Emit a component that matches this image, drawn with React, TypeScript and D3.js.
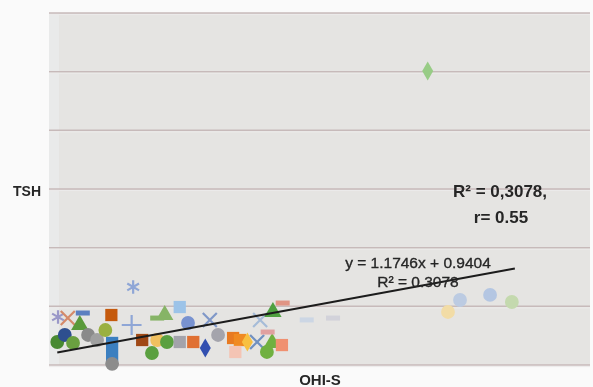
import React from "react";
import * as d3 from "d3";

// ---- data ----
const xValues = [1.12, 1.74, 0.83, 0.12, 0.25, 0.45, 0.41, 0.11, 0.21, 0.32, 0.52, 0.64, 0.75, 0.84, 0.84, 0.84, 1.10, 1.24, 1.44, 1.57, 1.37, 1.44, 1.54, 1.74, 1.85, 1.92, 2.08, 2.25, 2.14, 2.45, 2.54, 2.64, 2.48, 2.77, 2.81, 2.97, 2.90, 3.10, 2.91, 2.98, 3.11, 5.47, 5.87, 6.16, 5.31, 3.43, 3.78, 5.04];
const yValues = [6.65, 4.94, 4.26, 4.09, 4.0, 4.43, 3.41, 1.96, 2.56, 1.88, 2.56, 2.13, 2.98, 1.88, 0.85, 0.1, 3.41, 2.13, 2.13, 1.96, 1.02, 4.0, 4.26, 1.96, 3.58, 1.96, 1.45, 2.56, 3.84, 2.30, 2.13, 1.96, 1.11, 1.96, 3.84, 1.88, 1.11, 1.70, 2.81, 4.52, 5.28, 5.54, 5.97, 5.37, 4.52, 3.84, 4.0, 25.06];
const yTicks = [0, 5, 10, 15, 20, 25, 30];
const slope = 1.1746;
const intercept = 0.9404;
const trendX = [0.11, 6.2];
const xAxisTitle = "OHI-S";
const yAxisTitle = "TSH";
const equationLines = ["y = 1.1746x + 0.9404", "R² = 0.3078"];
const noteLines = ["R² = 0,3078,", "r= 0.55"];

// ---- marker styles (one per point) ----
const markerShapes = ["asterisk", "square", "square", "asterisk", "times", "dash", "triangle", "circle", "circle", "circle", "circle", "circle", "circle", "square", "square", "circle", "plus", "square", "circle", "circle", "circle", "dash", "triangle", "square", "circle", "square", "diamond", "circle", "times", "square", "square", "diamond", "square", "times", "times", "triangle", "circle", "square", "dash", "triangle", "dash", "circle", "circle", "circle", "circle", "dash", "dash", "diamond"];
const markerColors = ["#8fa6d6", "#9cc3e8", "#c55a11", "#9a98c8", "#d58a6a", "#5b7fc0", "#5a9a3a", "#4a8a30", "#2f4f8f", "#6aa040", "#8a8a8a", "#a0a0a0", "#9ab040", "#3b7fc0", "#3b7fc0", "#8c8c8c", "#8fa6d6", "#a04a14", "#f0c060", "#5aa040", "#5aa040", "#86b466", "#86b466", "#a3a3ab", "#7892d0", "#e07030", "#3050b0", "#a4a4ac", "#8098c8", "#e87a20", "#f08a20", "#f8c040", "#f4c4b4", "#7090c0", "#a6bcd8", "#70b040", "#70b040", "#f09070", "#e0a0a0", "#50a040", "#e09484", "#bccbe2", "#b4c6e2", "#c4d9ae", "#f2dca6", "#ccd6e4", "#d2d2da", "#98cc86"];

const W = 593;
const H = 387;
const M = { left: 49, right: 590, top: 13, bottom: 365 };

function Marker({ shape, color, cx, cy }: { shape: string; color: string; cx: number; cy: number }) {
  const t = `translate(${cx},${cy})`;
  if (shape === "dash") {
    return <rect x={cx - 7} y={cy - 2.5} width={14} height={5} fill={color} />;
  }
  const fillMap: Record<string, any> = {
    circle: d3.symbolCircle,
    square: d3.symbolSquare,
    triangle: d3.symbolTriangle,
    diamond: d3.symbolDiamond,
  };
  const strokeMap: Record<string, any> = {
    asterisk: d3.symbolAsterisk,
    times: d3.symbolTimes,
    plus: d3.symbolPlus,
  };
  if (fillMap[shape]) {
    const size = shape === "triangle" ? 130 : shape === "diamond" ? 105 : 150;
    const p = d3.symbol(fillMap[shape], size)() as string;
    return <path d={p} transform={t} fill={color} />;
  }
  const p = d3.symbol(strokeMap[shape] || d3.symbolPlus, 130)() as string;
  return <path d={p} transform={t} fill="none" stroke={color} strokeWidth={2.2} />;
}

export default function App() {
  const x = d3.scaleLinear().domain([0, 7.2]).range([M.left, M.right]);
  const y = d3.scaleLinear().domain([0, 30]).range([M.bottom, M.top]);
  const font = "'Liberation Sans', Arial, sans-serif";

  const line = d3
    .line<number>()
    .x((d) => x(d))
    .y((d) => y(slope * d + intercept));

  return (
    <svg width={W} height={H} style={{ position: "absolute", left: 0, top: 0, background: "#fafafa" }}>
      <defs>
        <filter id="soft" x="-20%" y="-20%" width="140%" height="140%">
          <feGaussianBlur stdDeviation="0.7" />
        </filter>
      </defs>
      <rect x={M.left} y={M.top} width={M.right - M.left} height={M.bottom - M.top} fill="#e5e4e2" />
      <rect x={M.left} y={M.top} width={10} height={M.bottom - M.top} fill="#e9eaea" />
      {yTicks.map((t) => (
        <g key={t}>
          <line x1={M.left} x2={M.right} y1={y(t)} y2={y(t)} stroke="#c7baba" strokeWidth={1.5} />
          <line x1={M.left} x2={M.right} y1={y(t) + 1.6} y2={y(t) + 1.6} stroke="#ecebea" strokeWidth={1} />
        </g>
      ))}
      <g filter="url(#soft)">
        {xValues.map((xv, i) => (
          <Marker key={i} shape={markerShapes[i]} color={markerColors[i]} cx={x(xv)} cy={y(yValues[i])} />
        ))}
      </g>
      <path d={line(trendX) as string} stroke="#1c1c1c" strokeWidth={2} fill="none" />
      <g fontFamily={font} fill="#262626">
        <text x={418} y={268} textAnchor="middle" fontSize={15.5} stroke="#262626" strokeWidth={0.35}>
          {equationLines[0]}
        </text>
        <text x={418} y={287} textAnchor="middle" fontSize={15.5} stroke="#262626" strokeWidth={0.35}>
          {equationLines[1]}
        </text>
        <text x={500} y={197} textAnchor="middle" fontSize={17} fontWeight="bold">
          {noteLines[0]}
        </text>
        <text x={501} y={223} textAnchor="middle" fontSize={17} fontWeight="bold">
          {noteLines[1]}
        </text>
        <text x={13} y={196} fontSize={14} fontWeight="bold">
          {yAxisTitle}
        </text>
        <text x={320} y={385} textAnchor="middle" fontSize={15} fontWeight="bold">
          {xAxisTitle}
        </text>
      </g>
    </svg>
  );
}
